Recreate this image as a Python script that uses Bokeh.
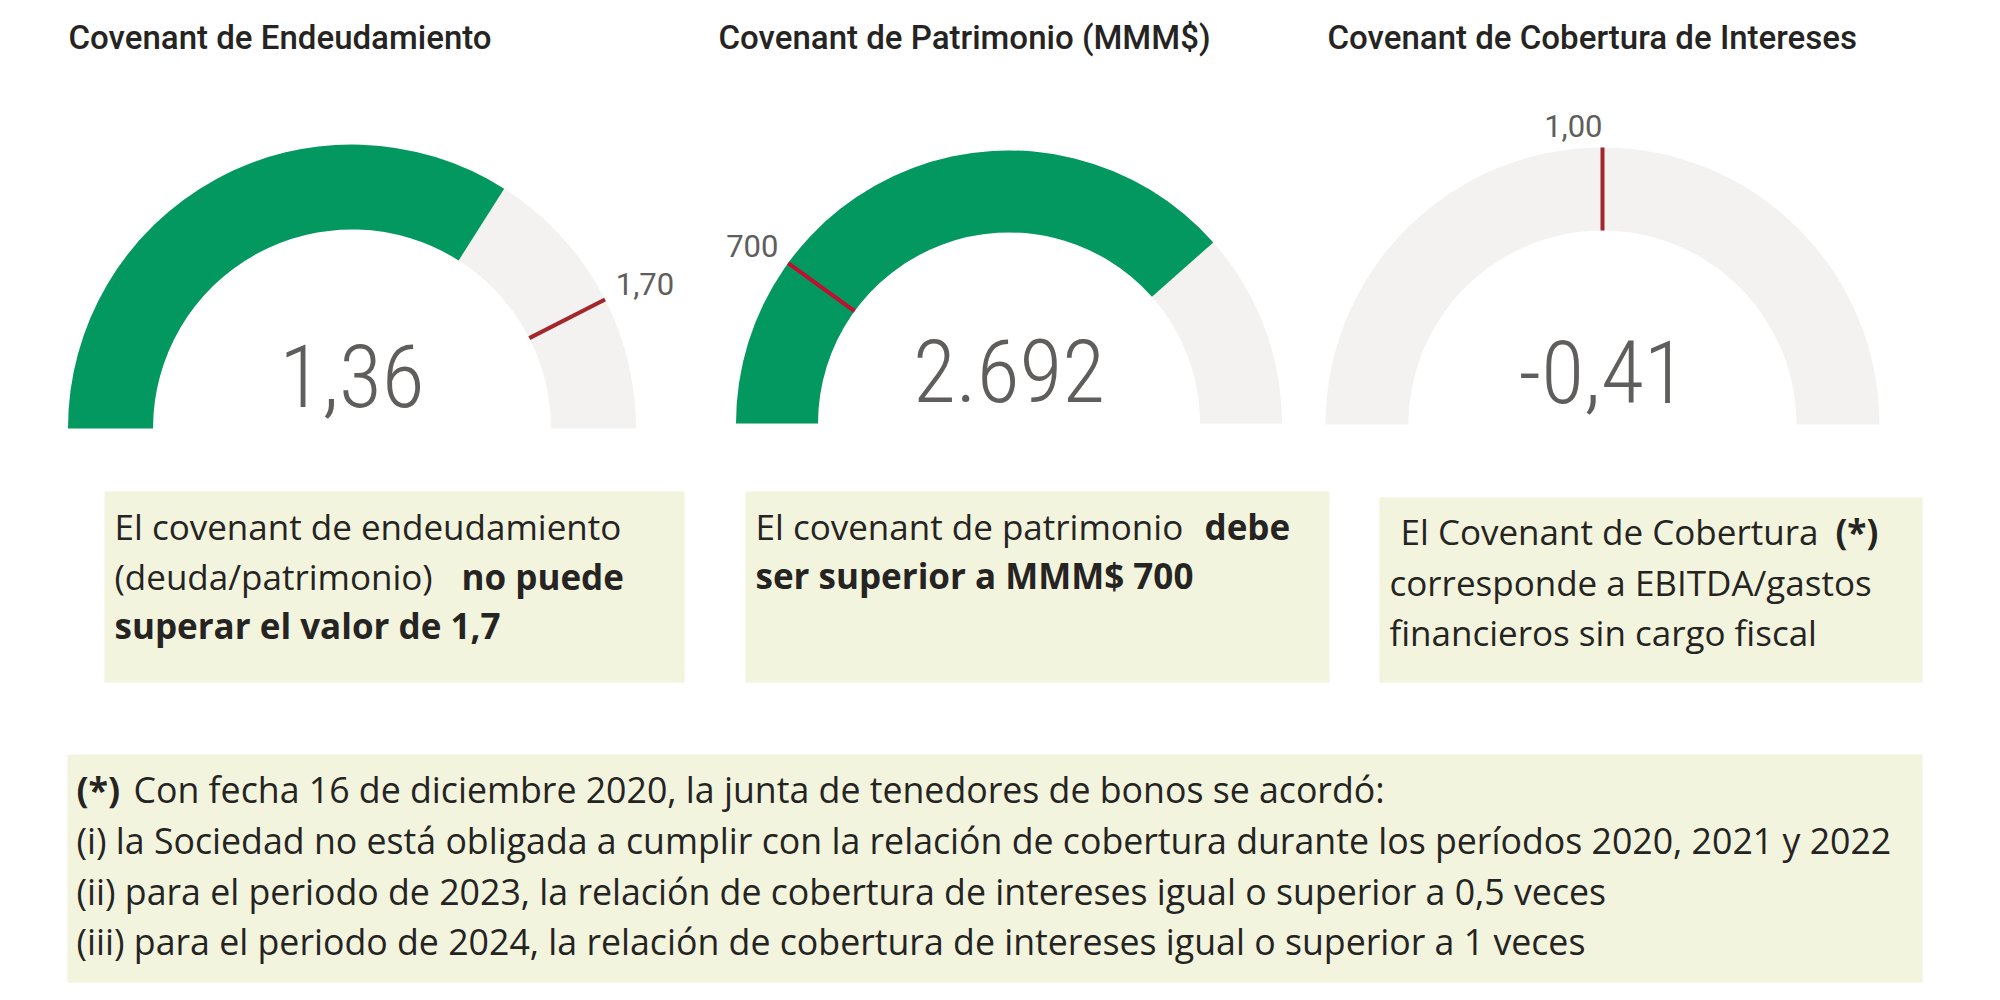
import math
from bokeh.plotting import figure
from bokeh.models import Range1d
from bokeh.core.properties import value
from bokeh.embed import file_html
from bokeh.resources import INLINE

# ---------------- data ----------------
titles = ["Covenant de Endeudamiento", "Covenant de Patrimonio (MMM$)", "Covenant de Cobertura de Intereses"]
values = [1.36, 2692, -0.41]
value_labels = ["1,36", "2.692", "-0,41"]
targets = [1.70, 700, 1.00]
target_labels = ["1,70", "700", "1,00"]
gauge_min = [0, 0, 0]
gauge_max = [2, 3500, 2]

box1_lines = [[("El covenant de endeudamiento", False)],
              [("(deuda/patrimonio)", False), ("no puede", True)],
              [("superar el valor de 1,7", True)]]
box2_lines = [[("El covenant de patrimonio", False), ("debe", True)],
              [("ser superior a MMM$ 700", True)]]
box3_lines = [[("El Covenant de Cobertura", False), ("(*)", True)],
              [("corresponde a EBITDA/gastos", False)],
              [("financieros sin cargo fiscal", False)]]
note_lines = [[("(*)", True), ("Con fecha 16 de diciembre 2020, la junta de tenedores de bonos se acordó:", False)],
              [("(i) la Sociedad no está obligada a cumplir con la relación de cobertura durante los períodos 2020, 2021 y 2022", False)],
              [("(ii) para el periodo de 2023, la relación de cobertura de intereses igual o superior a 0,5 veces", False)],
              [("(iii) para el periodo de 2024, la relación de cobertura de intereses igual o superior a 1 veces", False)]]

# ---------------- layout / style ----------------
W, H = 2000, 1000
def Y(y):
    return H - y

BASE_K = 0.35  # renderer places the alphabetic baseline ~0.35em low; compensate

def by(y_base, size):
    return Y(y_base - BASE_K * size)

GREEN = "#039860"
TRACK = "#F3F2F1"
TARGET_COLORS = ["#A4262C", "#C20F2F", "#A4262C"]
BOX = "#F2F4DD"
DARK = "#252423"
GREY = "#605E5C"
BODY_FONT = value("Open Sans")
TITLE_FONT = value("'Roboto Medium', Roboto")
LABEL_FONT = value("Roboto")
VALUE_FONT = value("'Roboto Condensed Light', 'Roboto Condensed', 'Roboto Light', Roboto")

geom = [dict(cx=351.5, cy=428, R=284, r=199, tx=68),
        dict(cx=1008.5, cy=423, R=273, r=191, tx=718),
        dict(cx=1602, cy=424, R=277, r=194, tx=1327)]

p = figure(width=W, height=H, x_range=Range1d(0, W), y_range=Range1d(0, H),
           output_backend="svg", toolbar_location=None,
           x_axis_type=None, y_axis_type=None, min_border=0)
p.grid.visible = False
p.outline_line_color = None
p.background_fill_color = "white"
p.border_fill_color = "white"

# titles
TS = 33
p.text(x=[g["tx"] for g in geom], y=[by(49, TS)] * 3, text=titles,
       text_font=TITLE_FONT, text_font_size=f"{TS}px", text_color=DARK,
       text_align="left", text_baseline="alphabetic")

LS, VS = 31, 88
for i, g in enumerate(geom):
    cx, cy, R, r = g["cx"], g["cy"], g["R"], g["r"]
    lo, hi = gauge_min[i], gauge_max[i]
    # track
    p.annular_wedge(x=[cx], y=[Y(cy)], inner_radius=r, outer_radius=R,
                    start_angle=0, end_angle=math.pi, direction="anticlock",
                    fill_color=TRACK, line_color=None)
    # value arc
    frac = min(max((values[i] - lo) / (hi - lo), 0.0), 1.0)
    if frac > 0:
        theta = math.pi * (1 - frac)
        p.annular_wedge(x=[cx], y=[Y(cy)], inner_radius=r, outer_radius=R,
                        start_angle=theta, end_angle=math.pi, direction="anticlock",
                        fill_color=GREEN, line_color=None)
    # target
    tf = min(max((targets[i] - lo) / (hi - lo), 0.0), 1.0)
    ta = math.pi * (1 - tf)
    c, s = math.cos(ta), math.sin(ta)
    p.segment(x0=[cx + r * c], y0=[Y(cy) + r * s], x1=[cx + R * c], y1=[Y(cy) + R * s],
              line_color=TARGET_COLORS[i], line_width=4)
    lr = R + 12
    p.text(x=[cx + lr * c], y=[by(cy - lr * s + 1, LS)], text=[target_labels[i]],
           text_font=LABEL_FONT, text_font_size=f"{LS}px", text_color=GREY,
           text_align="left" if c > 0.2 else "right", text_baseline="alphabetic")
    # value text
    p.text(x=[cx], y=[by(cy - 22, VS)], text=[value_labels[i]],
           text_font=VALUE_FONT, text_font_size=f"{VS}px", text_color=GREY,
           text_align="center", text_baseline="alphabetic")

# boxes
boxes = [(104, 684, 491, 682), (745, 1329, 491, 682), (1379, 1922, 497, 682), (67, 1922, 754, 982)]
p.quad(left=[b[0] for b in boxes], right=[b[1] for b in boxes],
       top=[Y(b[2]) for b in boxes], bottom=[Y(b[3]) for b in boxes],
       fill_color=BOX, line_color=None)

def draw_lines(lines, xs, ys, size):
    for line, xrow, yb in zip(lines, xs, ys):
        for (txt, bold), x in zip(line, xrow):
            p.text(x=[x], y=[by(yb, size)], text=[txt], text_font=BODY_FONT,
                   text_font_size=f"{size}px", text_color=DARK,
                   text_font_style="bold" if bold else "normal",
                   text_align="left", text_baseline="alphabetic")

draw_lines(box1_lines, [[114], [114, 461], [114]], [538, 588, 637], 35)
draw_lines(box2_lines, [[755, 1204], [755]], [538, 587], 35)
draw_lines(box3_lines, [[1400, 1835], [1389], [1389]], [543, 594, 644], 35)
draw_lines(note_lines, [[76, 133], [76], [76], [76]], [801, 851.5, 902.5, 953], 35.7)

open("out.html", "w").write(file_html(p, INLINE))
